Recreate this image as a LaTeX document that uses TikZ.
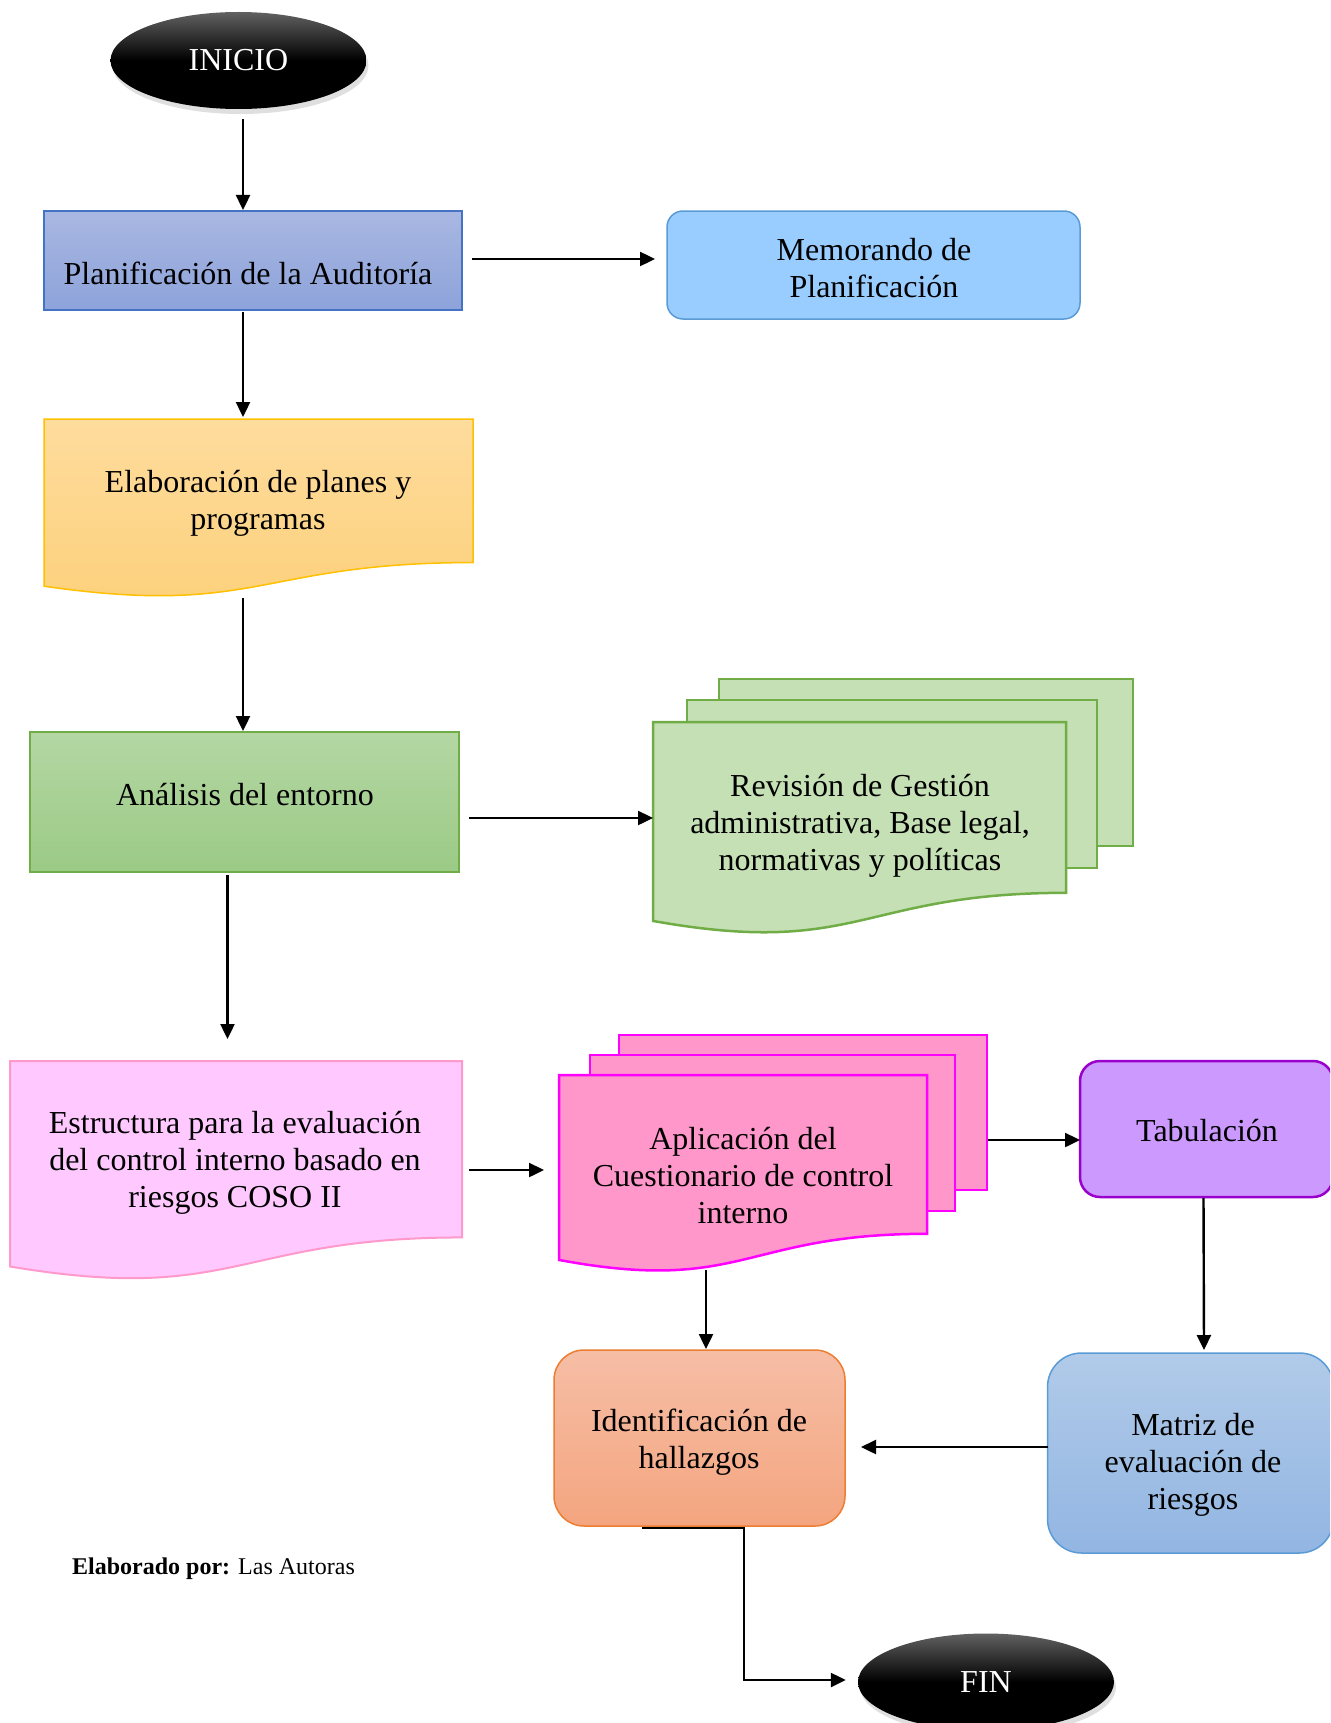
\documentclass[tikz,border=0pt]{standalone}
\usepackage{fontspec}
\setmainfont{Liberation Serif}
\usetikzlibrary{shapes.geometric,arrows.meta,shadows,calc}
\definecolor{planT}{HTML}{A9B7E2}
\definecolor{planB}{HTML}{8DA3DA}
\definecolor{planD}{HTML}{4472C4}
\definecolor{memoF}{HTML}{99CCFF}
\definecolor{memoD}{HTML}{5B9BD5}
\definecolor{elabT}{HTML}{FEDC9D}
\definecolor{elabB}{HTML}{FDD07A}
\definecolor{elabD}{HTML}{FFC000}
\definecolor{analT}{HTML}{B4D7A3}
\definecolor{analB}{HTML}{9BCA86}
\definecolor{analD}{HTML}{70AD47}
\definecolor{revF}{HTML}{C5E0B4}
\definecolor{estrF}{HTML}{FFC9FF}
\definecolor{estrD}{HTML}{FF99CC}
\definecolor{aplF}{HTML}{FF97CB}
\definecolor{aplD}{HTML}{FF00FF}
\definecolor{tabF}{HTML}{CC99FF}
\definecolor{tabD}{HTML}{9900CC}
\definecolor{matT}{HTML}{B1CBE9}
\definecolor{matB}{HTML}{92B5E2}
\definecolor{idT}{HTML}{F6BEA6}
\definecolor{idB}{HTML}{F4A57F}
\definecolor{idD}{HTML}{ED7D31}
% document shape: #1 style, #2 x-left, #3 x-right, #4 top, #5 height
\newcommand{\docshape}[5]{%
  \path[#1] (#2,#4) -- (#3,#4) -- (#3,{#4+0.802*#5})
    .. controls ({(#2+#3)/2},{#4+0.802*#5}) and ({(#2+#3)/2},{#4+1.107*#5}) ..
    (#2,{#4+0.934*#5}) -- cycle;}
\begin{document}
\begin{tikzpicture}[x=1pt,y=-1pt,
  txt/.style={font=\fontsize{32}{37}\selectfont, align=center, inner sep=0pt},
  arr/.style={line width=2.4pt, -{Triangle[length=15pt,width=14pt]}},
  frame/.style={inner sep=0pt, outer sep=0pt},
  term/.style={ellipse, minimum width=256pt, minimum height=97pt, inner sep=0pt,
    top color=black!62, bottom color=black, middle color=black, draw=none,
    drop shadow={opacity=0.25, shadow xshift=2pt, shadow yshift=-5pt},
    text=white, font=\fontsize{32}{37}\selectfont}
]
\useasboundingbox (0,0) rectangle (1330,1723);
\clip (0,0) rectangle (1330,1723);

% ---------- terminals ----------
\node[term] (inicio) at (238.5,60.5) {INICIO};
\node[term] (fin) at (986,1682) {FIN};

% ---------- Planificación ----------
\node[frame, draw=planD, line width=1.5pt, top color=planT, bottom color=planB,
  minimum width=418pt, minimum height=99pt] (plan) at (253,260.5) {};
\node[txt] (planT) at (248,273) {Planificación de la Auditoría};

% ---------- Memorando ----------
\node[frame, draw=memoD, line width=1.5pt, fill=memoF, rounded corners=16pt,
  minimum width=413pt, minimum height=108pt] (memo) at (873.5,265) {};
\node[txt] (memoT) at (874,268) {Memorando de\\Planificación};

% ---------- Elaboración ----------
\docshape{draw=elabD, line width=1.5pt, top color=elabT, bottom color=elabB}{44}{473}{419}{179}
\node[frame, minimum width=429pt, minimum height=177pt] (elab) at (258.5,507.5) {};
\node[txt] (elabT) at (258,503) {Elaboración de planes y\\programas};

% ---------- Análisis ----------
\node[frame, draw=analD, line width=1.5pt, top color=analT, bottom color=analB,
  minimum width=429pt, minimum height=140pt] (anal) at (244.5,802) {};
\node[txt] (analT) at (245,795) {Análisis del entorno};

% ---------- Revisión (multi document) ----------
\path[draw=analD, line width=2.5pt, fill=revF] (719,679) rectangle (1133,846);
\path[draw=analD, line width=2.5pt, fill=revF] (687,700) rectangle (1097,868);
\docshape{draw=analD, line width=2.5pt, fill=revF}{653}{1066}{722}{213}
\node[frame, minimum width=413pt, minimum height=210pt] (rev) at (859.5,827) {};
\node[txt] (revT) at (860,826) {Revisión de Gestión\\administrativa, Base legal,\\normativas y políticas};

% ---------- Estructura ----------
\docshape{draw=estrD, line width=2pt, fill=estrF}{10}{462}{1061}{220}
\node[frame, minimum width=452pt, minimum height=217pt] (estr) at (236,1169.5) {};
\node[txt] (estrT) at (235,1163) {Estructura para la evaluación\\del control interno basado en\\riesgos COSO II};

% ---------- Aplicación (multi document) ----------
\node[frame, draw=aplD, line width=2.5pt, fill=aplF,
  minimum width=368pt, minimum height=155pt] (aplB) at (803,1112.5) {};
\path[draw=aplD, line width=2.5pt, fill=aplF] (590,1055) rectangle (955,1211);
\docshape{draw=aplD, line width=2.5pt, fill=aplF}{559}{927}{1075}{198}
\node[frame, minimum width=368pt, minimum height=195pt] (apl) at (743,1172.5) {};
\node[txt] (aplT) at (743,1176) {Aplicación del\\Cuestionario de control\\interno};

% ---------- Tabulación ----------
\node[frame, draw=tabD, line width=2.5pt, fill=tabF, rounded corners=20pt,
  minimum width=253pt, minimum height=136pt] (tab) at (1206.5,1129) {};
\node[txt] (tabT) at (1207,1131) {Tabulación};

% ---------- Matriz ----------
\node[frame, draw=memoD, line width=1.5pt, top color=matT, bottom color=matB, rounded corners=34pt,
  minimum width=286pt, minimum height=200pt] (mat) at (1190.5,1453) {};
\node[txt] (matT) at (1193,1465) {Matriz de\\evaluación de\\riesgos};

% ---------- Identificación ----------
\node[frame, draw=idD, line width=1.5pt, top color=idT, bottom color=idB, rounded corners=30pt,
  minimum width=291pt, minimum height=176pt] (ident) at (699.5,1438) {};
\node[txt] (identT) at (699,1442) {Identificación de\\hallazgos};

% ---------- footer ----------
\node[anchor=west, inner sep=0pt, font=\fontsize{24}{28}\selectfont] (autor) at (72,1569)
  {\textbf{Elaborado por:} Las Autoras};

% ---------- connectors ----------
\draw[arr] ($(inicio.south)+(4.5,10)$) -- ($(plan.north)+(-10,-1)$);
\draw[arr] ($(plan.east)+(10,-1.5)$) -- ($(memo.west)+(-12,-6)$);
\draw[arr] ($(plan.south)+(-10,2)$) -- ($(elab.north)+(-15.5,-2)$);
\draw[arr] ($(elab.south)+(-15.5,2)$) -- ($(anal.north)+(-1.5,-1)$);
\draw[arr] ($(anal.east)+(10,16)$) -- ($(rev.west)+(0,-9)$);
\draw[arr] ($(anal.south)+(-17,3)$) -- ($(estr.north)+(-8.5,-22)$);
\draw[arr] ($(estr.east)+(7,0.5)$) -- ($(apl.west)+(-15,-2.5)$);
\draw[arr] ($(aplB.east)+(1,27.5)$) -- ($(tab.west)+(0,11)$);
\draw[arr] ($(tab.south)+(-3,1)$) -- ($(mat.north)+(13.5,-3)$);
\draw[arr] ($(apl.south)+(-37,0)$) -- ($(ident.north)+(6.5,-1)$);
\draw[arr] ($(mat.west)+(0,-6)$) -- ($(ident.east)+(16,9)$);
\draw[arr] ($(ident.south)+(-57.5,2)$) -- ++(102,0) |- ($(fin.west)+(-12,-2)$);
\end{tikzpicture}
\end{document}
